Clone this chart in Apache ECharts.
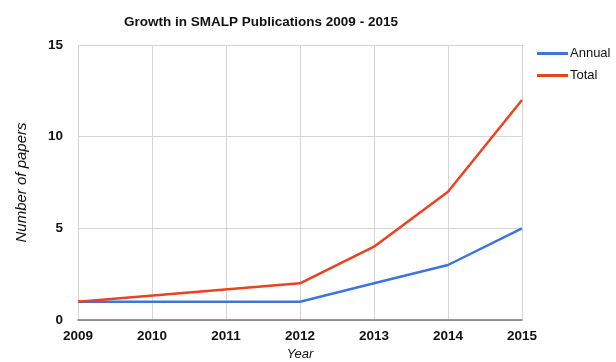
<!DOCTYPE html>
<html>
<head>
<meta charset="utf-8">
<script src="https://cdn.jsdelivr.net/npm/echarts@6/dist/echarts.min.js"></script>
<style>html,body{margin:0;padding:0;background:#fff}#c{width:616px;height:362px}</style>
</head>
<body>
<div id="c"></div>
<script>
var years = ['2009','2010','2011','2012','2013','2014','2015'];
var annual = [1, 1, 1, 1, 2, 3, 5];
var total = [1, null, null, 2, 4, 7, 12];
var yTicks = [0, 5, 10, 15];

var chart = echarts.init(document.getElementById('c'));
var font = 'Liberation Sans, Arial, Helvetica, sans-serif';
chart.setOption({
  animation: false,
  textStyle: {fontFamily: font},
  title: {
    text: 'Growth in SMALP Publications 2009 - 2015',
    left: 256, top: 10, textAlign: 'center',
    textStyle: {fontSize: 13.5, fontWeight: 'bold', color: '#111', fontFamily: font}
  },
  legend: {
    orient: 'vertical', left: 532, top: 42,
    itemWidth: 31, itemHeight: 3, itemGap: 9,
    icon: 'rect',
    textStyle: {fontSize: 13, color: '#111', fontFamily: font, padding: [0, 0, 0, -3]},
    data: ['Annual', 'Total']
  },
  grid: {left: 78, right: 94, top: 45, bottom: 42, containLabel: false, outerBoundsMode: 'none'},
  xAxis: {
    type: 'category', data: years, boundaryGap: false,
    name: 'Year', nameLocation: 'middle', nameGap: 28,
    nameTextStyle: {fontStyle: 'italic', fontSize: 13, color: '#111', fontFamily: font},
    axisLine: {show: true, lineStyle: {color: '#777', width: 1.5}},
    axisTick: {show: false},
    axisLabel: {fontSize: 13.5, color: '#111', margin: 9, fontWeight: 'bold', fontFamily: font},
    splitLine: {show: true, lineStyle: {color: '#d6d6d6', width: 1}}
  },
  yAxis: {
    type: 'value', min: yTicks[0], max: yTicks[yTicks.length - 1], interval: 5,
    name: 'Number of papers', nameLocation: 'middle', nameGap: 49, nameRotate: 90,
    nameTextStyle: {fontStyle: 'italic', fontSize: 15, color: '#111', fontFamily: font},
    axisLine: {show: false},
    axisTick: {show: false},
    axisLabel: {fontSize: 13.5, color: '#111', margin: 15, fontWeight: 'bold', fontFamily: font},
    splitLine: {show: true, lineStyle: {color: '#d6d6d6', width: 1}}
  },
  series: [
    {name: 'Annual', type: 'line', data: annual, symbol: 'none',
     lineStyle: {color: '#3f74dd', width: 2.5}, itemStyle: {color: '#3f74dd'}},
    {name: 'Total', type: 'line', data: total, symbol: 'none', connectNulls: true,
     lineStyle: {color: '#e9431f', width: 2.5}, itemStyle: {color: '#e9431f'}}
  ]
});
</script>
</body>
</html>
